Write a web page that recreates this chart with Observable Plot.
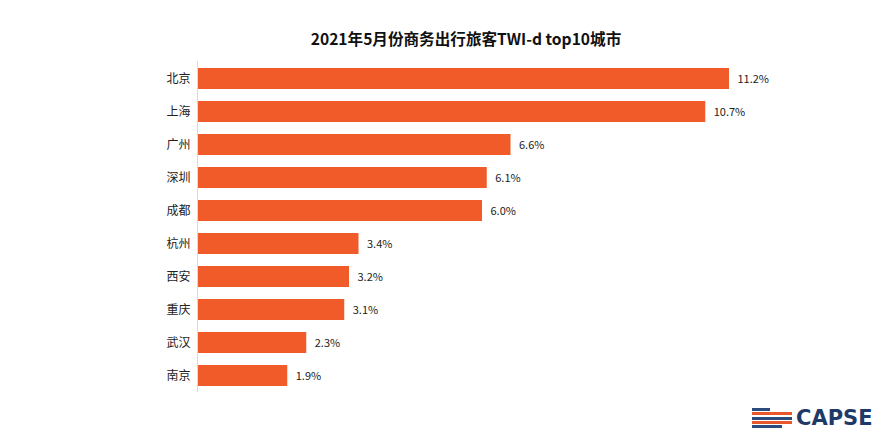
<!DOCTYPE html>
<html><head><meta charset="utf-8">
<script src="https://cdn.jsdelivr.net/npm/d3@7"></script>
<script src="https://cdn.jsdelivr.net/npm/@observablehq/plot@0.6"></script>
<style>
body{margin:0;background:#fff;width:880px;height:434px;overflow:hidden;position:relative;font-family:"Noto Sans CJK SC","Noto Sans",sans-serif;}
#title{height:50px;line-height:22px;padding-top:27px;text-align:center;font-weight:bold;font-size:15.6px;color:#111;box-sizing:border-box;padding-left:52px;white-space:nowrap;}
#logo{position:absolute;left:752px;top:406px;display:flex;align-items:center;}
#logo .stripes{width:40px;height:20px;display:flex;flex-direction:column;justify-content:space-between;margin-right:4px;}
#logo .stripes div{height:3px;}
#logo .txt{font-family:"DejaVu Sans",sans-serif;font-weight:bold;font-size:21px;color:#1f3a68;letter-spacing:0px;}
</style></head>
<body>
<div id="title">2021年5月份商务出行旅客TWI-d top10城市</div>
<div id="chart"></div>
<div id="logo"><div class="stripes"><div style="background:#2b4a7e;width:18px"></div><div style="background:#e8572a"></div><div style="background:#2b4a7e"></div><div style="background:#e8572a"></div><div style="background:#2b4a7e;width:30px"></div></div><span class="txt">CAPSE</span></div>
<script>
const cities = ["北京","上海","广州","深圳","成都","杭州","西安","重庆","武汉","南京"];
const values = [11.2,10.7,6.6,6.1,6.0,3.4,3.2,3.1,2.3,1.9];
const data = cities.map((c,i)=>({city:c, value:values[i]}));
const chart = Plot.plot({
  width:880, height:384,
  marginLeft:197, marginRight:113, marginTop:11, marginBottom:42,
  style:{fontFamily:'"Noto Sans CJK SC","Noto Sans",sans-serif', fontSize:"12px", color:"#222", background:"#fff"},
  x:{domain:[0,12], axis:null},
  y:{domain:cities, paddingInner:0.37, paddingOuter:0.12, label:null, tickSize:0, tickPadding:7},
  marks:[
    Plot.barX(data,{x:"value", y:"city", fill:"#F15A29"}),
    Plot.ruleX([0],{stroke:"#d9d9d9", strokeWidth:1}),
    Plot.text(data,{x:"value", y:"city", text:d=>d.value.toFixed(1)+"%", textAnchor:"start", dx:8, fontSize:11, fill:"#222"})
  ]
});
document.getElementById("chart").appendChild(chart);
</script>
</body></html>
